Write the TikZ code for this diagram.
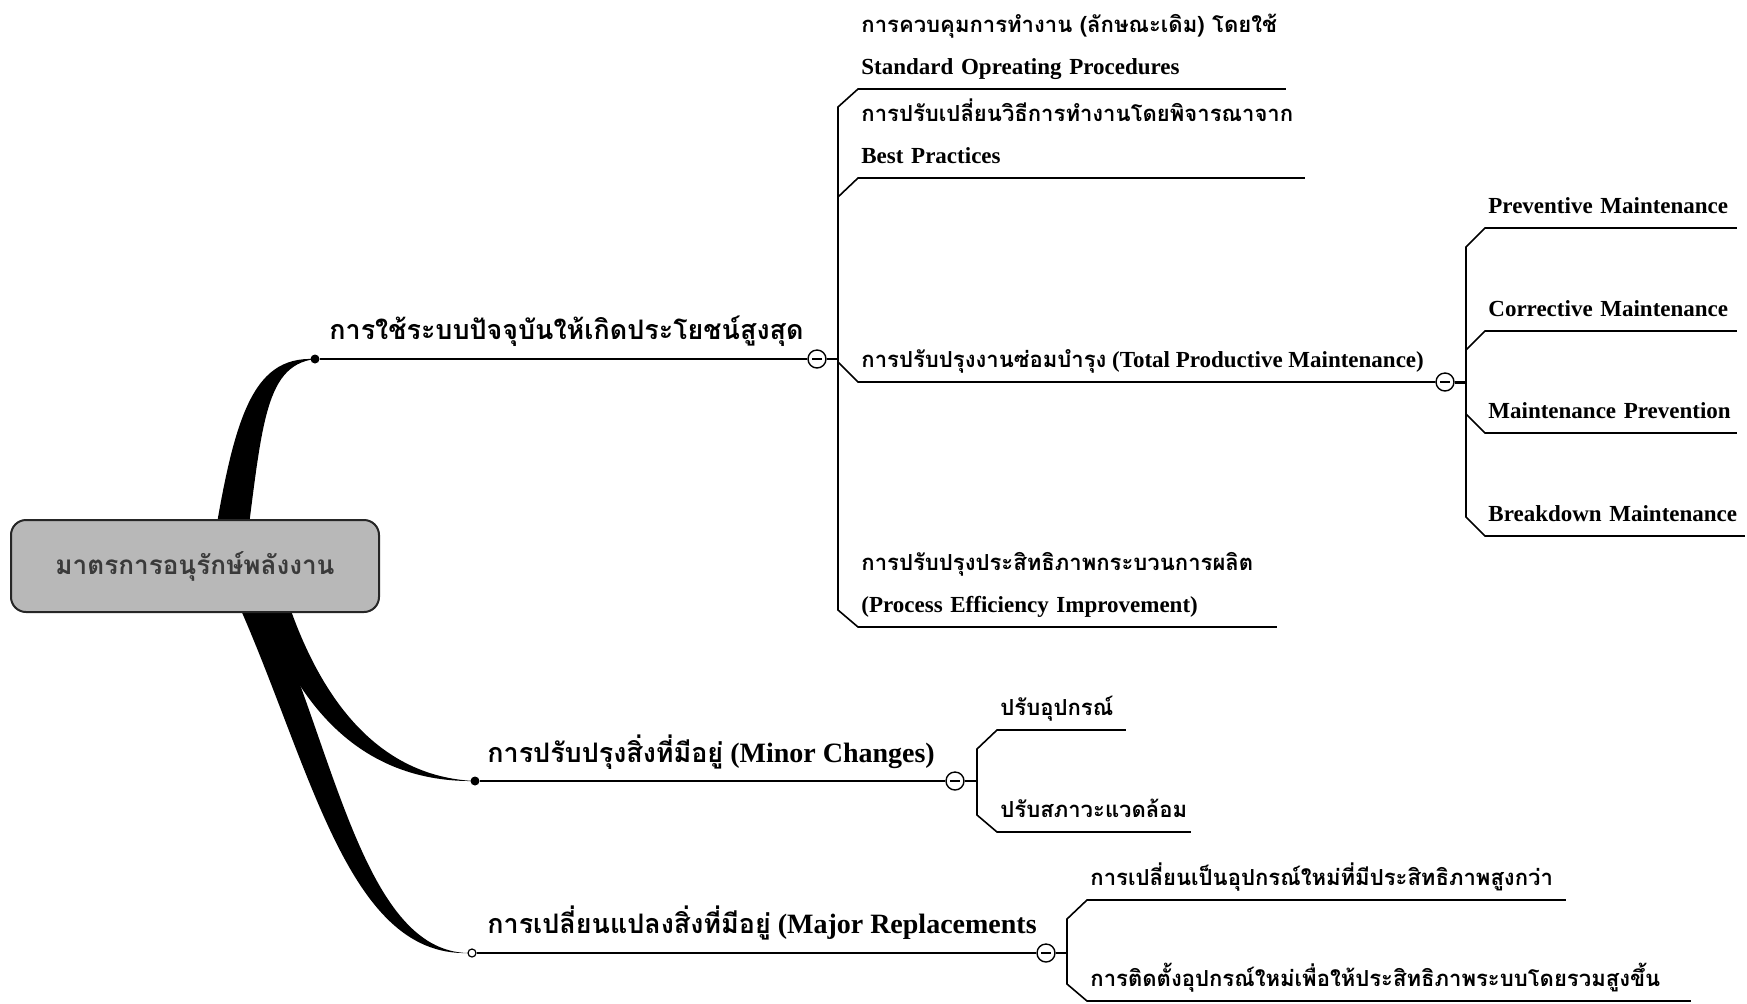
\documentclass[tikz,border=0pt]{standalone}
\usepackage{fontspec}
\setmainfont{Liberation Serif}
\newfontfamily\thaifont[Script=Thai, Scale=0.96]{Loma}
\newcommand{\thai}[1]{{\thaifont #1}}
\usepackage{tikz}
\usetikzlibrary{positioning, calc, backgrounds}
\definecolor{rootgray}{RGB}{184, 184, 184}
\definecolor{roottext}{RGB}{58, 58, 58}
\tikzstyle{root} = [rectangle, rounded corners=7.5pt, draw=black!85, line width=1pt, fill=rootgray, minimum width=184pt, minimum height=46pt, text=roottext, font=\bfseries\fontsize{13.6}{16}\selectfont]
\tikzstyle{branchtext} = [anchor=base west, inner sep=0pt, font=\bfseries\fontsize{14}{16}\selectfont]
\tikzstyle{leaf} = [anchor=south west, inner xsep=1.5pt, inner ysep=7pt, text depth=0pt, font=\bfseries\fontsize{11.5}{14}\selectfont]
\tikzstyle{leafline} = [anchor=base west, inner sep=0pt, font=\bfseries\fontsize{11.5}{14}\selectfont]
\tikzstyle{link} = [line width=0.8pt]
\tikzstyle{dot} = [circle, fill=black, inner sep=0pt, minimum size=4.5pt]
\tikzstyle{opendot} = [circle, draw=black, line width=0.6pt, fill=white, inner sep=0pt, minimum size=4pt]
\tikzstyle{fold} = [circle, draw=black, line width=0.7pt, fill=white, inner sep=0pt, minimum size=9pt, path picture={\draw[line width=0.7pt] ([xshift=2pt]path picture bounding box.west) -- ([xshift=-2pt]path picture bounding box.east);}]

\begin{document}
\begin{tikzpicture}[x=0.5pt, y=-0.5pt]
    \useasboundingbox (0,0) rectangle (1747,1003);

    % Root
    \node[root] (root) at (195,566) {\thai{มาตรการอนุรักษ์พลังงาน}};

    % Branch 1 - current system
    \node[dot] (b1dot) at (315,359) {};
    \node[fold] (b1fold) at (817,359) {};
    \node[branchtext] (b1text) at (329,339) {\thai{การใช้ระบบปัจจุบันให้เกิดประโยชน์สูงสุด}};
    \coordinate (b1j) at (838,359);
    \node[leafline] (c1top) at (861,32) {\thai{การควบคุมการทำงาน (ลักษณะเดิม) โดยใช้}};
    \node[leaf, text width=210.5pt] (c1) at (858,89) {Standard Opreating Procedures};
    \node[leafline] (c2top) at (861,121) {\thai{การปรับเปลี่ยนวิธีการทำงานโดยพิจารณาจาก}};
    \node[leaf, text width=220pt] (c2) at (858,178) {Best Practices};
    \node[leaf] (c3) at (858,382) {\thai{การปรับปรุงงานซ่อมบำรุง} (Total Productive Maintenance)};
    \node[leafline] (c4top) at (861,570) {\thai{การปรับปรุงประสิทธิภาพกระบวนการผลิต}};
    \node[leaf, text width=206pt] (c4) at (858,627) {(Process Efficiency Improvement)};

    % TPM sub-branch
    \node[fold] (tpmfold) at (1445,382) {};
    \coordinate (tpmj) at (1466,382);
    \node[leaf, text width=122.5pt] (pm) at (1485,228) {Preventive Maintenance};
    \node[leaf, text width=122.5pt] (cm) at (1485,331) {Corrective Maintenance};
    \node[leaf, text width=122.5pt] (mp) at (1485,433) {Maintenance Prevention};
    \node[leaf, text width=126.5pt] (bm) at (1485,536) {Breakdown Maintenance};

    % Branch 2 - minor changes
    \node[dot] (b2dot) at (475,781) {};
    \node[fold] (b2fold) at (955,781) {};
    \node[branchtext] (b2text) at (487,762) {\thai{การปรับปรุงสิ่งที่มีอยู่} (Minor Changes)};
    \coordinate (b2j) at (977,781);
    \node[leaf, text width=61pt] (m1) at (997,730) {\thai{ปรับอุปกรณ์}};
    \node[leaf, text width=93.5pt] (m2) at (997,832) {\thai{ปรับสภาวะแวดล้อม}};

    % Branch 3 - major replacements
    \node[opendot] (b3dot) at (472,953) {};
    \node[fold] (b3fold) at (1046,953) {};
    \node[branchtext] (b3text) at (487,933) {\thai{การเปลี่ยนแปลงสิ่งที่มีอยู่} (Major Replacements};
    \coordinate (b3j) at (1067,953);
    \node[leaf, text width=236pt] (r1) at (1087,900) {\thai{การเปลี่ยนเป็นอุปกรณ์ใหม่ที่มีประสิทธิภาพสูงกว่า}};
    \node[leaf, text width=298.5pt] (r2) at (1087,1001) {\thai{การติดตั้งอุปกรณ์ใหม่เพื่อให้ประสิทธิภาพระบบโดยรวมสูงขึ้น}};

    % Thick branches from the root
    \begin{scope}[on background layer]
        \fill (208,580) .. controls (232,420) and (250,356) .. (b1dot.center) .. controls (262,366) and (262,430) .. (242,580) -- cycle;
        \fill (256,590) .. controls (288,690) and (350,783) .. (b2dot.center) .. controls (362,776) and (310,672) .. (284,590) -- cycle;
        \fill (232,590) .. controls (310,760) and (345,956) .. (b3dot.west) .. controls (362,950) and (334,745) .. (262,590) -- cycle;
    \end{scope}

    % Lines - branch 1
    \draw[link] (b1dot) -- (b1fold);
    \draw[link] (b1fold) -- (b1j);
    \draw[link] (c1.south east) -- (c1.south west) -- ++(-20,18) -- ($(c4.south west)+(-20,-17)$) -- (c4.south west) -- (c4.south east);
    \draw[link] (c2.south east) -- (c2.south west) -- ++(-20,19);
    \draw[link] ($(c3.south west)+(-20,-20)$) -- (c3.south west) -- (tpmfold);

    % Lines - TPM
    \draw[line width=1.5pt] (tpmfold) -- (tpmj);
    \draw[link] (pm.south east) -- (pm.south west) -- ++(-19,19) -- ($(bm.south west)+(-19,-19)$) -- (bm.south west) -- (bm.south east);
    \draw[link] (cm.south east) -- (cm.south west) -- ++(-19,19);
    \draw[link] (mp.south east) -- (mp.south west) -- ++(-19,-19);

    % Lines - branch 2
    \draw[link] (b2dot) -- (b2fold);
    \draw[link] (b2fold) -- (b2j);
    \draw[link] (m1.south east) -- (m1.south west) -- ++(-20,19) -- ($(m2.south west)+(-20,-17)$) -- (m2.south west) -- (m2.south east);

    % Lines - branch 3
    \draw[link] (b3dot) -- (b3fold);
    \draw[link] (b3fold) -- (b3j);
    \draw[link] (r1.south east) -- (r1.south west) -- ++(-20,19) -- ($(r2.south west)+(-20,-17)$) -- (r2.south west) -- (r2.south east);
\end{tikzpicture}
\end{document}
